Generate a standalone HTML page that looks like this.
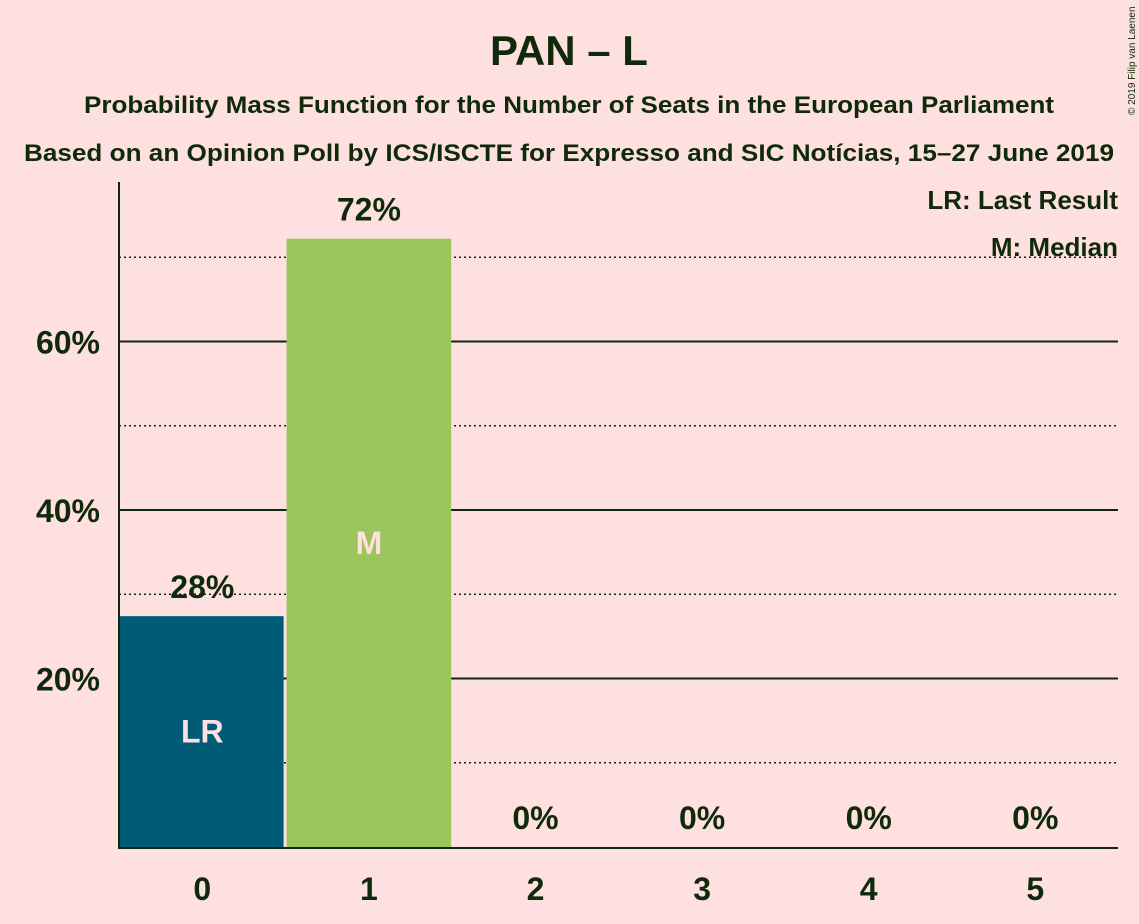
<!DOCTYPE html>
<html><head><meta charset="utf-8"><style>
body{margin:0;background:#ffe0e0;}
svg{display:block;font-family:"Liberation Sans",sans-serif;}
</style></head><body>
<svg id="chart" width="1139" height="924">
<rect width="1139" height="924" fill="#ffe0e0"/>
<text x="569" y="65" text-anchor="middle" font-size="42" font-weight="bold" fill="#0f2a0a">PAN – L</text>
<text x="569" y="113" text-anchor="middle" font-size="24" font-weight="bold" fill="#0f2a0a" textLength="970" lengthAdjust="spacingAndGlyphs">Probability Mass Function for the Number of Seats in the European Parliament</text>
<text x="569" y="161" text-anchor="middle" font-size="24" font-weight="bold" fill="#0f2a0a" textLength="1090" lengthAdjust="spacingAndGlyphs">Based on an Opinion Poll by ICS/ISCTE for Expresso and SIC Notícias, 15–27 June 2019</text>
<text x="1135" y="115" text-anchor="start" font-size="10" fill="#0f2a0a" transform="rotate(-90 1135 115)">© 2019 Filip van Laenen</text>
<g id="grid"></g>
<g id="bars"></g>
<g id="labels"></g>
<line x1="119" y1="182" x2="119" y2="848" stroke="#0f2a0a" stroke-width="2"/>
<line x1="118" y1="848" x2="1118" y2="848" stroke="#0f2a0a" stroke-width="2"/>
<text x="1118" y="209" text-anchor="end" font-size="26" font-weight="bold" fill="#0f2a0a">LR: Last Result</text>
<text x="1118" y="256" text-anchor="end" font-size="26" font-weight="bold" fill="#0f2a0a">M: Median</text>
</svg>
<script>
const categories=[0,1,2,3,4,5];
const values=[27.4,72.2,0,0,0,0];
const valueLabels=["28%","72%","0%","0%","0%","0%"];
const barMarks=["LR","M","","","",""];
const majorTicks=[20,40,60];
const minorTicks=[10,30,50,70];
const ns="http://www.w3.org/2000/svg";
const x0=119,step=166.6,base=847,ppu=8.425;
const xs=i=>x0+i*step, ys=v=>base-v*ppu;
function mk(t,a,p){const e=document.createElementNS(ns,t);for(const k in a)e.setAttribute(k,a[k]);p.appendChild(e);return e;}
const g=document.getElementById('grid'),b=document.getElementById('bars'),l=document.getElementById('labels');
minorTicks.forEach(v=>{const e=mk('line',{x1:119,x2:1118,y1:ys(v),y2:ys(v),stroke:'#0f2a0a','stroke-width':1.5,'stroke-dasharray':'2,3'},g);

});
majorTicks.forEach(v=>{const e=mk('line',{x1:119,x2:1118,y1:ys(v),y2:ys(v),stroke:'#0f2a0a','stroke-width':2},g);


const t=mk('text',{x:100,y:ys(v)+12,'text-anchor':'end','font-size':32,'font-weight':'bold',fill:'#0f2a0a'},l);t.textContent=v+'%';

});
const colors=['#005b76','#9bc65e'];
categories.forEach((c,i)=>{
 const cx=xs(i)+step/2;
 if(values[i]>0){const r=mk('rect',{x:xs(i)+(i?1:0),y:ys(values[i]),width:step-2,height:base-ys(values[i]),fill:colors[i%2]},b);
 
 }
 const vt=mk('text',{x:cx,y:(values[i]>0?ys(values[i])-18:base-18),'text-anchor':'middle','font-size':32,'font-weight':'bold',fill:'#0f2a0a'},l);vt.textContent=valueLabels[i];
 
 
 if(barMarks[i]){const m=mk('text',{x:cx,y:(base+ys(values[i]))/2+11,'text-anchor':'middle','font-size':32,'font-weight':'bold',fill:'#ffe0e0'},l);m.textContent=barMarks[i];
 
 }
 const xt=mk('text',{x:cx,y:900,'text-anchor':'middle','font-size':32,'font-weight':'bold',fill:'#0f2a0a'},l);xt.textContent=c;
 
 
});
</script>
</body></html>
